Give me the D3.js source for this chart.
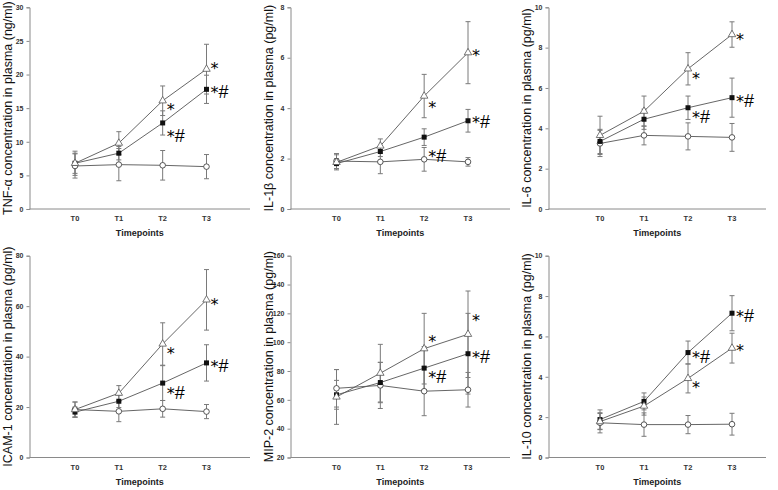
<!DOCTYPE html>
<html><head><meta charset="utf-8">
<script src="https://cdn.jsdelivr.net/npm/d3@7/dist/d3.min.js"></script>
<style>
html,body{margin:0;padding:0;background:#fff;}
svg{display:block;}
</style></head>
<body>
<svg id="chart" width="778" height="490"></svg>
<script>
// ---------- DATA ----------
const timepoints = ["T0", "T1", "T2", "T3"];

// TNF-alpha (ng/ml)
const tnfTri = [6.8, 9.8, 16.1, 20.8],   tnfTriErr = [1.8, 1.7, 2.2, 3.7];
const tnfSq = [6.8, 8.3, 12.8, 17.8],    tnfSqErr = [1.5, 1.0, 1.8, 2.1];
const tnfCirc = [6.4, 6.6, 6.5, 6.3],    tnfCircErr = [1.8, 2.4, 2.2, 1.8];
const tnfTicks = [0, 5, 10, 15, 20, 25, 30];
const tnfMarks = [[3, 20.1, "*"], [3, 16.5, "*#"], [2, 14.0, "*"], [2, 10.0, "*#"]];

// IL-1beta (pg/ml)
const il1Tri = [1.85, 2.5, 4.48, 6.2],   il1TriErr = [0.3, 0.28, 0.86, 1.23];
const il1Sq = [1.8, 2.28, 2.85, 3.5],    il1SqErr = [0.2, 0.2, 0.33, 0.45];
const il1Circ = [1.9, 1.87, 1.97, 1.87], il1CircErr = [0.3, 0.47, 0.47, 0.17];
const il1Ticks = [0, 2, 4, 6, 8];
const il1Marks = [[3, 5.87, "*"], [3, 3.23, "*#"], [2, 3.82, "*"], [2, 1.85, "*#"]];

// IL-6 (pg/ml)
const il6Tri = [3.65, 4.85, 6.95, 8.65], il6TriErr = [0.95, 0.75, 0.8, 0.63];
const il6Sq = [3.35, 4.45, 5.02, 5.52],  il6SqErr = [0.6, 0.5, 0.58, 0.97];
const il6Circ = [3.25, 3.65, 3.6, 3.55], il6CircErr = [0.65, 0.47, 0.67, 0.69];
const il6Ticks = [0, 2, 4, 6, 8, 10];
const il6Marks = [[3, 8.14, "*"], [3, 5.04, "*#"], [2, 6.22, "*"], [2, 4.28, "*#"]];

// ICAM-1 (pg/ml)
const icamTri = [19, 25.5, 45, 62.5],    icamTriErr = [3, 3, 8.4, 12];
const icamSq = [18, 22.3, 29.5, 37.5],   icamSqErr = [2, 2.5, 6.9, 7.2];
const icamCirc = [19, 18.3, 19.3, 18.2], icamCircErr = [3, 4.1, 3.3, 2.8];
const icamTicks = [0, 20, 40, 60, 80];
const icamMarks = [[3, 58.6, "*"], [3, 33.9, "*#"], [2, 38.9, "*"], [2, 23.0, "*#"]];

// MIP-2 (pg/ml)
const mipTri = [62, 78.5, 95.5, 105.5],  mipTriErr = [19, 20, 24.5, 30];
const mipSq = [63.5, 72, 82, 92],        mipSqErr = [10, 14, 15, 28];
const mipCirc = [68, 70, 66, 67],        mipCircErr = [13, 16, 17, 12];
const mipTicks = [20, 40, 60, 80, 100, 120, 140, 160];
const mipMarks = [[3, 111.4, "*"], [3, 85.6, "*#"], [2, 96.9, "*"], [2, 71.8, "*#"]];

// IL-10 (pg/ml)
const il10Tri = [1.78, 2.55, 3.92, 5.42], il10TriErr = [0.4, 0.45, 0.72, 0.74];
const il10Sq = [1.88, 2.78, 5.2, 7.15],   il10SqErr = [0.48, 0.42, 0.57, 0.87];
const il10Circ = [1.72, 1.63, 1.63, 1.65], il10CircErr = [0.5, 0.58, 0.45, 0.54];
const il10Ticks = [0, 2, 4, 6, 8, 10];
const il10Marks = [[3, 6.70, "*#"], [3, 5.02, "*"], [2, 4.67, "*#"], [2, 3.21, "*"]];

const yLabels = [
  "TNF-\u03b1 concentration in plasma (ng/ml)",
  "IL-1\u03b2 concentration in plasma (pg/ml)",
  "IL-6 concentration in plasma (pg/ml)",
  "ICAM-1 concentration in plasma (pg/ml)",
  "MIP-2 concentration in plasma (pg/ml)",
  "IL-10 concentration in plasma (pg/ml)"
];
const xTitle = "Timepoints";

// ---------- LAYOUT ----------
const cols = [
  {axis: 29.5, t0: 75, t3: 206.5, end: 250},
  {axis: 290.5, t0: 336.5, t3: 468, end: 510},
  {axis: 548.5, t0: 600, t3: 732, end: 766}
];
const rows = [
  {bottom: 209, top: 7.3},
  {bottom: 457.5, top: 255.7}
];

const panels = [
  {col: 0, row: 0, tri: tnfTri, triE: tnfTriErr, sq: tnfSq, sqE: tnfSqErr, ci: tnfCirc, ciE: tnfCircErr, ticks: tnfTicks, marks: tnfMarks, label: yLabels[0]},
  {col: 1, row: 0, tri: il1Tri, triE: il1TriErr, sq: il1Sq, sqE: il1SqErr, ci: il1Circ, ciE: il1CircErr, ticks: il1Ticks, marks: il1Marks, label: yLabels[1]},
  {col: 2, row: 0, tri: il6Tri, triE: il6TriErr, sq: il6Sq, sqE: il6SqErr, ci: il6Circ, ciE: il6CircErr, ticks: il6Ticks, marks: il6Marks, label: yLabels[2]},
  {col: 0, row: 1, tri: icamTri, triE: icamTriErr, sq: icamSq, sqE: icamSqErr, ci: icamCirc, ciE: icamCircErr, ticks: icamTicks, marks: icamMarks, label: yLabels[3]},
  {col: 1, row: 1, tri: mipTri, triE: mipTriErr, sq: mipSq, sqE: mipSqErr, ci: mipCirc, ciE: mipCircErr, ticks: mipTicks, marks: mipMarks, label: yLabels[4]},
  {col: 2, row: 1, tri: il10Tri, triE: il10TriErr, sq: il10Sq, sqE: il10SqErr, ci: il10Circ, ciE: il10CircErr, ticks: il10Ticks, marks: il10Marks, label: yLabels[5]}
];

const svg = d3.select("#chart");
const axisColor = "#8a8a8a";
const lineColor = "#555";
const errColor = "#7a7a7a";
const narrow = "'Liberation Sans Narrow', 'Arial Narrow', 'Liberation Sans', Arial, sans-serif";

panels.forEach(p => {
  const c = cols[p.col], r = rows[p.row];
  const x = d3.scaleLinear().domain([0, 3]).range([c.t0, c.t3]);
  const y = d3.scaleLinear().domain([p.ticks[0], p.ticks[p.ticks.length - 1]]).range([r.bottom, r.top]);
  const g = svg.append("g");

  // y axis
  const yAxis = d3.axisLeft(y).tickValues(p.ticks).tickSize(3).tickPadding(3).tickFormat(d3.format("d"));
  const ya = g.append("g").attr("transform", `translate(${c.axis},0)`).call(yAxis);
  ya.select(".domain").attr("stroke", axisColor).attr("stroke-width", 1);
  ya.selectAll(".tick line").attr("stroke", axisColor);
  ya.selectAll(".tick text").attr("fill", "#333").style("font-family", narrow).style("font-size", "7px").style("font-weight", "bold");

  // x axis line
  g.append("line").attr("x1", c.axis).attr("x2", c.end).attr("y1", r.bottom).attr("y2", r.bottom)
    .attr("stroke", axisColor).attr("stroke-width", 1);
  g.selectAll(".xt").data(timepoints).enter().append("text")
    .attr("x", (d, i) => x(i)).attr("y", r.bottom + 12)
    .attr("text-anchor", "middle").attr("fill", "#333")
    .style("font-family", narrow).style("font-size", "7.5px").style("font-weight", "bold")
    .text(d => d);
  g.append("text").attr("x", (c.axis + c.end) / 2).attr("y", r.bottom + 27)
    .attr("text-anchor", "middle").attr("fill", "#222")
    .style("font-family", narrow).style("font-size", "9px").style("font-weight", "bold")
    .text(xTitle);

  // y label
  g.append("text")
    .attr("transform", `translate(${c.axis - 18},${(r.top + r.bottom) / 2}) rotate(-90)`)
    .attr("text-anchor", "middle").attr("fill", "#111")
    .style("font-family", "'Liberation Sans', Arial, sans-serif").style("font-size", "12.5px")
    .text(p.label);

  const series = [
    {v: p.ci, e: p.ciE, type: "circle"},
    {v: p.sq, e: p.sqE, type: "square"},
    {v: p.tri, e: p.triE, type: "triangle"}
  ];

  // error bars
  series.forEach(s => {
    s.v.forEach((v, i) => {
      const xx = x(i);
      g.append("line").attr("x1", xx).attr("x2", xx).attr("y1", y(v - s.e[i])).attr("y2", y(v + s.e[i]))
        .attr("stroke", errColor).attr("stroke-width", 1);
      [v - s.e[i], v + s.e[i]].forEach(b => {
        g.append("line").attr("x1", xx - 2.5).attr("x2", xx + 2.5).attr("y1", y(b)).attr("y2", y(b))
          .attr("stroke", errColor).attr("stroke-width", 1);
      });
    });
  });

  // lines
  const line = d3.line().x((d, i) => x(i)).y(d => y(d));
  series.forEach(s => {
    g.append("path").datum(s.v).attr("d", line).attr("fill", "none")
      .attr("stroke", lineColor).attr("stroke-width", 0.9);
  });

  // markers
  series.forEach(s => {
    s.v.forEach((v, i) => {
      const xx = x(i), yy = y(v);
      if (s.type === "circle") {
        g.append("circle").attr("cx", xx).attr("cy", yy).attr("r", 2.8)
          .attr("fill", "#fff").attr("stroke", "#444").attr("stroke-width", 0.9);
      } else if (s.type === "square") {
        g.append("rect").attr("x", xx - 2.5).attr("y", yy - 2.5).attr("width", 5).attr("height", 5)
          .attr("fill", "#111");
      } else {
        g.append("path").attr("d", d3.symbol(d3.symbolTriangle, 24)())
          .attr("transform", `translate(${xx},${yy})`)
          .attr("fill", "#fff").attr("stroke", "#555").attr("stroke-width", 0.8);
      }
    });
  });

  // significance marks
  p.marks.forEach(m => {
    const t = g.append("text").attr("x", x(m[0]) + 4).attr("y", y(m[1])).attr("fill", "#000");
    t.append("tspan").style("font-family", "'DejaVu Sans', sans-serif").style("font-size", "16px").text("*");
    if (m[2].length > 1) {
      t.append("tspan").style("font-family", "'Liberation Sans', Arial, sans-serif").style("font-size", "18px")
        .text(m[2].slice(1));
    }
  });
});
</script>
</body></html>
